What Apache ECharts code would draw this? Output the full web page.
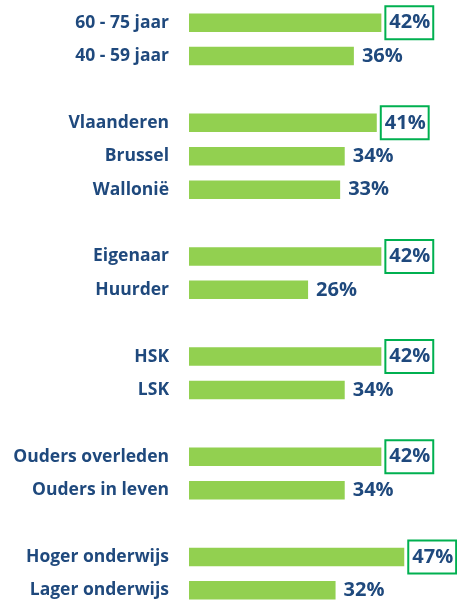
<!DOCTYPE html>
<html>
<head>
<meta charset="utf-8">
<script src="https://cdn.jsdelivr.net/npm/echarts@6/dist/echarts.min.js"></script>
<style>
  html, body { margin: 0; padding: 0; background: #fff; }
  #chart { width: 457px; height: 607px; }
</style>
</head>
<body>
<div id="chart"></div>
<script>
// categorieën, lege strings zijn witruimte tussen de groepen
const categories = [
  '60 - 75 jaar', '40 - 59 jaar', '',
  'Vlaanderen', 'Brussel', 'Wallonië', '',
  'Eigenaar', 'Huurder', '',
  'HSK', 'LSK', '',
  'Ouders overleden', 'Ouders in leven', '',
  'Hoger onderwijs', 'Lager onderwijs'
]
const values = [
  42, 36, null,
  41, 34, 33, null,
  42, 26, null,
  42, 34, null,
  42, 34, null,
  47, 32
]
// hoogste waarde per groep krijgt een kader
const boxed = ['60 - 75 jaar', 'Vlaanderen', 'Eigenaar', 'HSK', 'Ouders overleden', 'Hoger onderwijs']

const textColor = '#1f497d'
const font = '"Open Sans", sans-serif'

const chart = echarts.init(document.getElementById('chart'))

const seriesData = values.map((v, i) => {
  if (v === null) return null
  const item = { value: v }
  if (boxed.indexOf(categories[i]) >= 0) {
    item.label = { borderColor: '#00b050', borderWidth: 2 }
  }
  return item
})

const option = {
  animation: false,
  grid: { left: 189, top: 6, height: 606, width: 229 },
  xAxis: {
    type: 'value',
    min: 0,
    max: 50,
    show: false
  },
  yAxis: {
    type: 'category',
    data: categories,
    inverse: true,
    axisLine: { show: false },
    axisTick: { show: false },
    axisLabel: {
      margin: 20,
      color: textColor,
      fontFamily: font,
      fontWeight: 'bold',
      fontSize: 17.5
    }
  },
  series: [{
    type: 'bar',
    data: seriesData,
    barWidth: 18.5,
    itemStyle: { color: '#92d050' },
    label: {
      show: true,
      position: 'right',
      distance: 4,
      formatter: '{c}%',
      color: textColor,
      fontFamily: font,
      fontWeight: 'bold',
      fontSize: 20,
      lineHeight: 22,
      padding: [7, 3, 4, 4]
    }
  }]
}
chart.setOption(option)
</script>
</body>
</html>
